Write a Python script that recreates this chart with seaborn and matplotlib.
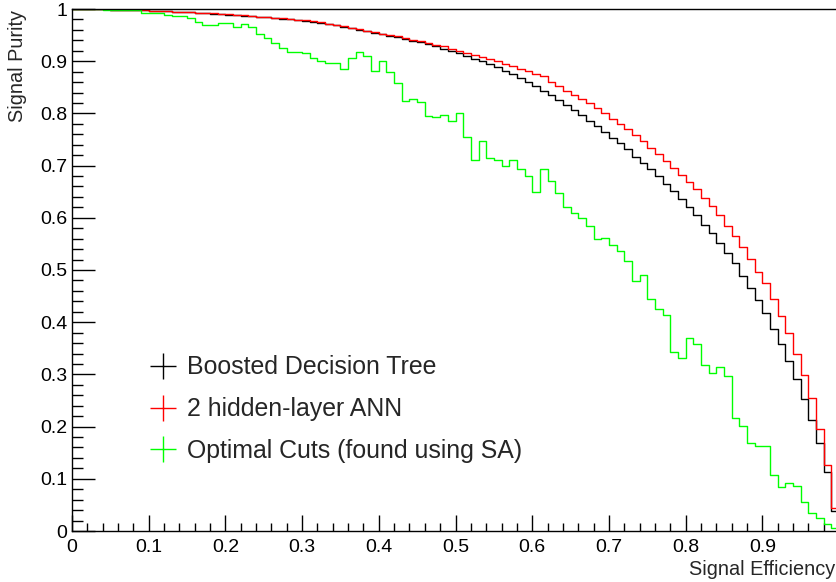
import numpy as np
import pandas as pd
import matplotlib
matplotlib.use('Agg')
import matplotlib.pyplot as plt
from matplotlib.lines import Line2D
from matplotlib.ticker import MultipleLocator, FuncFormatter
import seaborn as sns

# Signal purity per signal-efficiency bin (100 bins of width 0.01)
bdt_purity = [
    1.0000, 0.9999, 0.9997, 0.9995, 0.9992, 0.9989, 0.9985, 0.9981, 0.9977, 0.9972,
    0.9967, 0.9961, 0.9955, 0.9949, 0.9942, 0.9935, 0.9927, 0.9919, 0.9911, 0.9902,
    0.9892, 0.9882, 0.9872, 0.9861, 0.9850, 0.9838, 0.9826, 0.9813, 0.9800, 0.9786,
    0.9771, 0.9755, 0.9738, 0.9713, 0.9687, 0.9655, 0.9630, 0.9598, 0.9572, 0.9540,
    0.9515, 0.9490, 0.9460, 0.9425, 0.9393, 0.9361, 0.9325, 0.9285, 0.9240, 0.9195,
    0.9150, 0.9100, 0.9050, 0.8995, 0.8940, 0.8880, 0.8815, 0.8750, 0.8675, 0.8600,
    0.8520, 0.8430, 0.8350, 0.8257, 0.8170, 0.8065, 0.7970, 0.7860, 0.7760, 0.7640,
    0.7535, 0.7427, 0.7310, 0.7170, 0.7044, 0.6935, 0.6800, 0.6650, 0.6510, 0.6366,
    0.6210, 0.6050, 0.5860, 0.5700, 0.5520, 0.5330, 0.5130, 0.4885, 0.4660, 0.4425,
    0.4170, 0.3870, 0.3576, 0.3257, 0.2918, 0.2529, 0.2126, 0.1680, 0.1136, 0.0380,
]
ann_purity = [
    1.0000, 0.9999, 0.9997, 0.9995, 0.9993, 0.9990, 0.9986, 0.9982, 0.9978, 0.9973,
    0.9968, 0.9963, 0.9957, 0.9951, 0.9944, 0.9937, 0.9930, 0.9922, 0.9914, 0.9905,
    0.9896, 0.9887, 0.9877, 0.9867, 0.9856, 0.9845, 0.9834, 0.9822, 0.9810, 0.9797,
    0.9784, 0.9768, 0.9750, 0.9722, 0.9695, 0.9668, 0.9636, 0.9610, 0.9585, 0.9553,
    0.9527, 0.9505, 0.9476, 0.9444, 0.9406, 0.9380, 0.9355, 0.9317, 0.9285, 0.9240,
    0.9200, 0.9163, 0.9125, 0.9080, 0.9042, 0.8998, 0.8953, 0.8908, 0.8857, 0.8806,
    0.8755, 0.8710, 0.8610, 0.8525, 0.8435, 0.8350, 0.8276, 0.8190, 0.8100, 0.8000,
    0.7890, 0.7790, 0.7695, 0.7580, 0.7470, 0.7340, 0.7220, 0.7095, 0.6950, 0.6820,
    0.6690, 0.6546, 0.6386, 0.6230, 0.6050, 0.5850, 0.5657, 0.5446, 0.5220, 0.4960,
    0.4745, 0.4440, 0.4120, 0.3790, 0.3400, 0.2990, 0.2540, 0.1950, 0.1264, 0.0435,
]
cuts_purity = [
    1.0000, 1.0000, 0.9995, 0.9995, 0.9990, 0.9990, 0.9990, 0.9985, 0.9985, 0.9920,
    0.9920, 0.9920, 0.9885, 0.9870, 0.9870, 0.9820, 0.9760, 0.9690, 0.9690, 0.9725,
    0.9740, 0.9660, 0.9710, 0.9660, 0.9530, 0.9440, 0.9340, 0.9250, 0.9180, 0.9180,
    0.9165, 0.9060, 0.9010, 0.8960, 0.8960, 0.8850, 0.9060, 0.9180, 0.9100, 0.8820,
    0.9000, 0.8790, 0.8580, 0.8240, 0.8280, 0.8210, 0.7950, 0.7940, 0.7960, 0.7860,
    0.8010, 0.7550, 0.7110, 0.7480, 0.7140, 0.7110, 0.7000, 0.7110, 0.6930, 0.6800,
    0.6490, 0.6930, 0.6710, 0.6480, 0.6200, 0.6100, 0.5990, 0.5850, 0.5590, 0.5610,
    0.5480, 0.5370, 0.5170, 0.4780, 0.4900, 0.4440, 0.4260, 0.4140, 0.3435, 0.3310,
    0.3690, 0.3590, 0.3185, 0.3025, 0.3135, 0.2960, 0.2160, 0.2005, 0.1690, 0.1620,
    0.1620, 0.1080, 0.0850, 0.0915, 0.0870, 0.0560, 0.0350, 0.0240, 0.0134, 0.0050,
]

methods = ['Boosted Decision Tree', '2 hidden-layer ANN', 'Optimal Cuts (found using SA)']
colors = ['#000000', '#ff0000', '#00ff00']

n_bins = len(bdt_purity)
centers = (np.arange(n_bins) + 0.5) / n_bins

df = pd.DataFrame({
    'efficiency': np.tile(centers, 3),
    'purity': bdt_purity + ann_purity + cuts_purity,
    'method': np.repeat(methods, n_bins),
})

sns.set_theme(style='white')
plt.rcParams['font.family'] = ['Liberation Sans', 'DejaVu Sans']

fig = plt.figure(figsize=(8.36, 5.82), dpi=100)
# ROOT-like frame; the right edge of the frame sits just outside the picture
ax = fig.add_axes([72 / 836, 51 / 582, 767 / 836, 522 / 582])

for method, color in zip(methods, colors):
    sub = df[df['method'] == method]
    sns.histplot(data=sub, x='efficiency', weights='purity', bins=n_bins, binrange=(0, 1),
                 element='step', fill=False, color=color, linewidth=1.0, ax=ax)

ax.set_xlim(0, 1)
ax.set_ylim(0, 1)

for side in ['left', 'bottom', 'top', 'right']:
    ax.spines[side].set_color('black')
    ax.spines[side].set_linewidth(1.0)

ax.xaxis.set_major_locator(MultipleLocator(0.1))
ax.xaxis.set_minor_locator(MultipleLocator(0.02))
ax.yaxis.set_major_locator(MultipleLocator(0.1))
ax.yaxis.set_minor_locator(MultipleLocator(0.02))
ax.xaxis.set_major_formatter(FuncFormatter(lambda v, p: '' if v > 0.95 else f'{v:g}'))
ax.yaxis.set_major_formatter(FuncFormatter(lambda v, p: f'{v:g}'))

ax.tick_params(which='both', direction='in', bottom=True, left=True, top=False, right=False,
               colors='black', width=1.0, labelsize=14)
ax.tick_params(axis='x', which='major', length=11.3, pad=6)
ax.tick_params(axis='x', which='minor', length=5.7)
ax.tick_params(axis='y', which='major', length=16.2, pad=3.5)
ax.tick_params(axis='y', which='minor', length=8.1)

ax.set_xlabel('Signal Efficiency', fontsize=14.3, loc='right')
ax.xaxis.set_label_coords(0.995, -0.0556)
ax.set_ylabel('Signal Purity', fontsize=14.3, loc='top')
ax.yaxis.set_label_coords(-0.0587, 0.998)

handles = [Line2D([], [], color=c, marker='+', markersize=19, markeredgewidth=1.0, linestyle='none')
           for c in colors]
ax.legend(handles, methods, loc='upper left', bbox_to_anchor=(151 / 836, 0.3894),
          bbox_transform=fig.transFigure, frameon=False, fontsize=17.9,
          handlelength=1.0, handletextpad=0.45, labelspacing=0.72, borderpad=0, borderaxespad=0)

fig.savefig('out.png', dpi=100)
